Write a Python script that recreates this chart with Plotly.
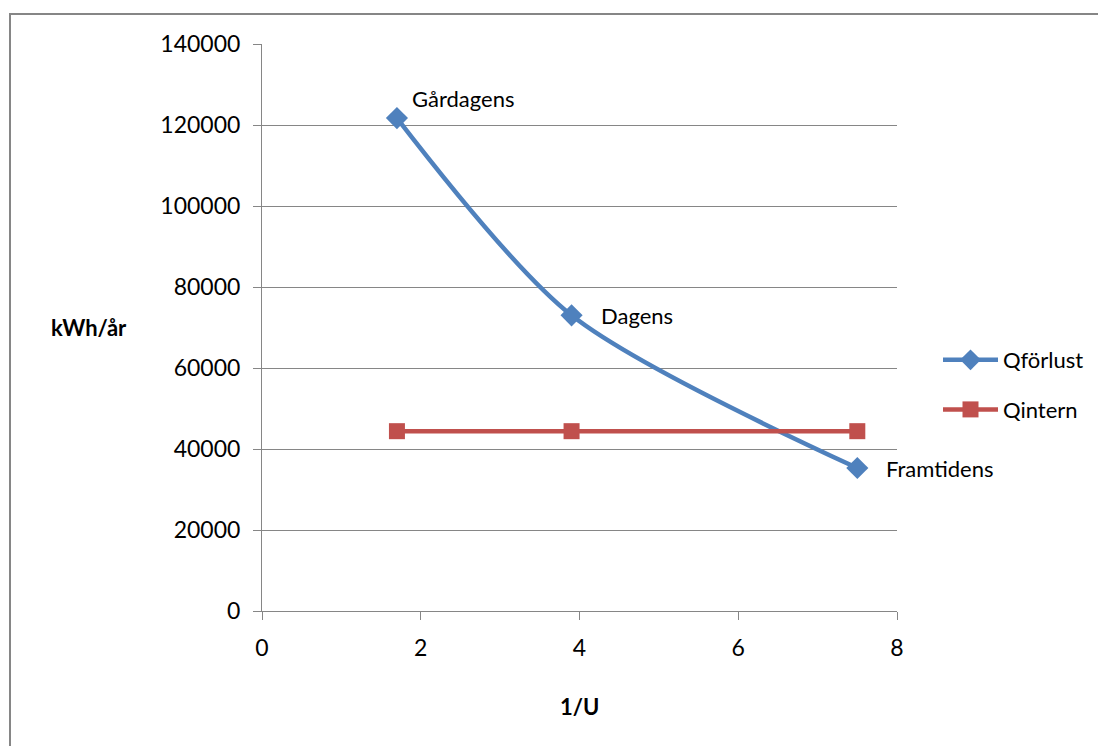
import plotly.graph_objects as go

x_vals = [1.7, 3.9, 7.5]
q_forlust = [121700, 73000, 35300]
q_intern = [44400, 44400, 44400]
point_labels = ["Gårdagens", "Dagens", "Framtidens"]
label_dx = [13, 27, 27]
label_dy = [20, 0, 0]
y_ticks = [0, 20000, 40000, 60000, 80000, 100000, 120000, 140000]
x_ticks = [0, 2, 4, 6, 8]

FONT = "Lato, Open Sans, sans-serif"
BLUE = "#4F81BD"
RED = "#C0504D"
GRID = "#868686"

L, T, W, H = 254, 36, 635, 567

fig = go.Figure()
fig.add_trace(go.Scatter(
    x=x_vals, y=q_forlust, name="Qförlust", mode="lines+markers", legendgroup="a",
    line=dict(color=BLUE, width=4.5, shape="spline", smoothing=0.8),
    marker=dict(symbol="diamond", size=17, color=BLUE),
))
fig.add_trace(go.Scatter(
    x=x_vals, y=q_intern, name="Qintern", mode="lines+markers", legendgroup="b",
    line=dict(color=RED, width=4.5),
    marker=dict(symbol="square", size=16, color=RED),
))

for xv, yv, lab, dx, dy in zip(x_vals, q_forlust, point_labels, label_dx, label_dy):
    fig.add_annotation(x=xv, y=yv, text=lab, showarrow=False,
                       xanchor="left", yanchor="middle", xshift=dx, yshift=dy,
                       font=dict(family=FONT, size=22, color="black"))

fig.add_annotation(xref="paper", yref="paper", x=(89 - 262) / W, y=(611 - 327) / H, text="<b>kWh/år</b>",
                   showarrow=False, xanchor="center", yanchor="middle",
                   font=dict(family=FONT, size=22, color="black"))
fig.add_annotation(xref="paper", yref="paper", x=(579 - 262) / W, y=(611 - 706) / H, text="<b>1/U</b>",
                   showarrow=False, xanchor="center", yanchor="middle",
                   font=dict(family=FONT, size=22, color="black"))

fig.add_shape(type="rect", xref="paper", yref="paper",
              x0=(10 - 262) / W, x1=1.6,
              y0=-0.6, y1=(611 - 14) / H,
              line=dict(color=GRID, width=2), fillcolor="rgba(0,0,0,0)")

fig.update_layout(
    width=1106, height=746,
    margin=dict(l=L, r=1106 - L - W, t=T, b=746 - T - H),
    paper_bgcolor="white", plot_bgcolor="white",
    font=dict(family=FONT, size=23, color="black"),
    showlegend=True,
    legend=dict(x=(938 - 262) / W, y=(611 - 385) / H, xanchor="left", yanchor="middle",
                font=dict(family=FONT, size=22), itemwidth=55, tracegroupgap=18,
                bgcolor="rgba(0,0,0,0)"),
    xaxis=dict(range=[0, 8], tickvals=x_ticks, showgrid=False, zeroline=False,
               showline=True, linecolor=GRID, linewidth=1,
               ticks="outside", ticklen=8, tickcolor=GRID, ticklabelstandoff=8),
    yaxis=dict(range=[0, 140000], tickvals=y_ticks, showgrid=True, gridcolor=GRID, gridwidth=1,
               zeroline=False, showline=True, linecolor=GRID, linewidth=1,
               ticks="outside", ticklen=8, tickcolor=GRID, ticklabelstandoff=8,
               tickformat="d"),
)

fig.write_html("out.html")
